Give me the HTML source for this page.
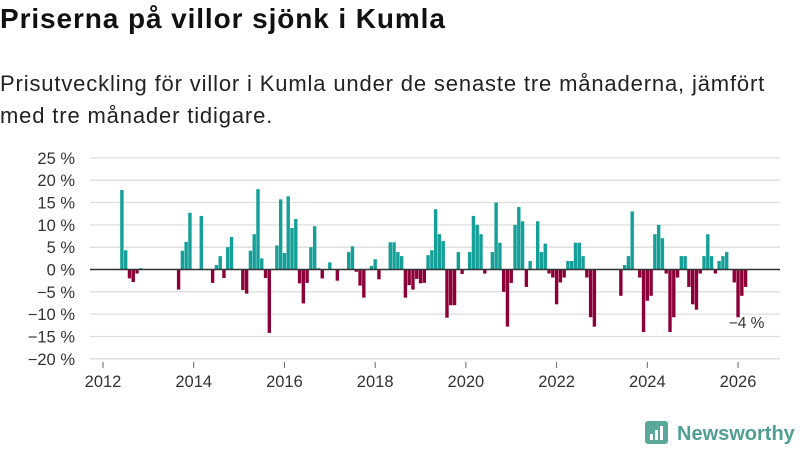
<!DOCTYPE html>
<html><head><meta charset="utf-8"><style>
body{margin:0;width:800px;height:450px;background:#fff;font-family:"Liberation Sans",sans-serif;overflow:hidden;position:relative}
#title{position:absolute;left:0;top:3px;font-size:28px;font-weight:bold;color:#111;letter-spacing:0.9px;white-space:nowrap}
#sub{position:absolute;left:0;top:68px;font-size:22px;line-height:32px;color:#222;width:800px;letter-spacing:0.85px;white-space:nowrap}
svg{position:absolute;left:0;top:0}
</style></head><body>
<div id="title">Priserna på villor sjönk i Kumla</div>
<div id="sub">Prisutveckling för villor i Kumla under de senaste tre månaderna, jämfört<br>med tre månader tidigare.</div>
<svg id="chart" width="800" height="450"></svg>
<script>
const startYear = 2012;
const values = [0,0,0,0,0,17.8,4.3,-2,-2.8,-0.9,0.3,0,
0,0,0,0,0,0,0,0,-4.5,4.2,6.2,12.7,
0,0,12,0,0,-3,1,3,-1.9,5,7.3,0,
0,-4.6,-5.4,4.2,7.9,18,2.5,-1.9,-14.2,0,5.4,15.7,
3.7,16.4,9.3,11.3,-3.1,-7.6,-3,5,9.7,0.3,-2,0,
1.6,0,-2.5,0,0,3.9,5.2,-0.5,-3.6,-6.3,0,0.8,
2.3,-2.2,0,0,6.1,6.1,3.9,3,-6.3,-3.5,-4.5,-2.1,
-3.1,-3,3.2,4.3,13.5,7.9,6.4,-10.8,-8,-8,3.9,-1,
0,3.9,12,10,7.9,-0.9,0,3.9,15,6,-5,-12.8,
-3,10,14,10.8,-3.9,1.9,0,10.8,3.9,5.8,-0.9,-1.8,
-7.8,-2.9,-1.8,1.9,1.9,6,6,3,-1.8,-10.7,-12.8,0,
0,0,0,0,0,-5.9,1,3,13,0,-1.8,-14,
-7,-5.9,7.9,10,7,-0.9,-14,-10.7,-1.8,3,3,-3.9,
-7.8,-9,-0.9,3,7.9,3,-0.9,1.9,3,3.9,0,-2.9,
-10.7,-5.9,-3.9];
const yTicks = [25,20,15,10,5,0,-5,-10,-15,-20];
const xTicks = [2012,2014,2016,2018,2020,2022,2024,2026];
const lastLabel = "−4 %";

const NS="http://www.w3.org/2000/svg";
const svg=document.getElementById('chart');
const y=v=>269.5-v*4.465;
const x=i=>103+i*3.78;
const xYear=yr=>x((yr-startYear)*12);
function mk(t,a){const e=document.createElementNS(NS,t);for(const k in a)e.setAttribute(k,a[k]);svg.appendChild(e);return e;}
yTicks.forEach(t=>{
  const l=mk('line',{x1:90,x2:780,y1:y(t),y2:y(t),stroke:'#ddd','stroke-width':1.3});
  
  
  const tx=mk('text',{x:75,y:y(t)+6,'text-anchor':'end','font-size':16.5,fill:'#333','font-family':'Liberation Sans, sans-serif'});
  tx.textContent=(t<0?'−'+(-t):t)+' %';
  
  
});
xTicks.forEach(yr=>{
  const l=mk('line',{x1:xYear(yr),x2:xYear(yr),y1:362,y2:368,stroke:'#666'});
  
  
  const tx=mk('text',{x:xYear(yr),y:387,'text-anchor':'middle','font-size':16.5,fill:'#333','font-family':'Liberation Sans, sans-serif'});
  tx.textContent=yr;
  
  
});
values.forEach((v,i)=>{
  if(v===0)return;
  const r=mk('rect',{x:x(i)-1.7,width:3.4,y:Math.min(y(v),y(0)),height:Math.abs(y(v)-y(0)),fill:v>0?'#14a098':'#8c0039'});
  
  
});
const zl=mk('line',{x1:90,x2:780,y1:y(0),y2:y(0),stroke:'#333','stroke-width':1.6});


const li=values.length-1;
const lb=mk('text',{x:x(li)+1,y:y(values[li])+41,'text-anchor':'middle','font-size':15.5,fill:'#333',stroke:'#fff','stroke-width':3,'paint-order':'stroke','font-family':'Liberation Sans, sans-serif'});
lb.textContent=lastLabel;


const ic=mk('rect',{x:645,y:421,width:23,height:23,rx:3,fill:'#5aa89a'});


[[650,434,3,6],[655,430,3,10],[660,426,3,14]].forEach(b=>{const r=mk('rect',{x:b[0],y:b[1],width:b[2],height:b[3],fill:'#fff'});});
const lt=mk('text',{x:677,y:440,'font-size':20,'font-weight':'bold',fill:'#4f9f92','font-family':'Liberation Sans, sans-serif'});
lt.textContent='Newsworthy';


</script>
</body></html>
